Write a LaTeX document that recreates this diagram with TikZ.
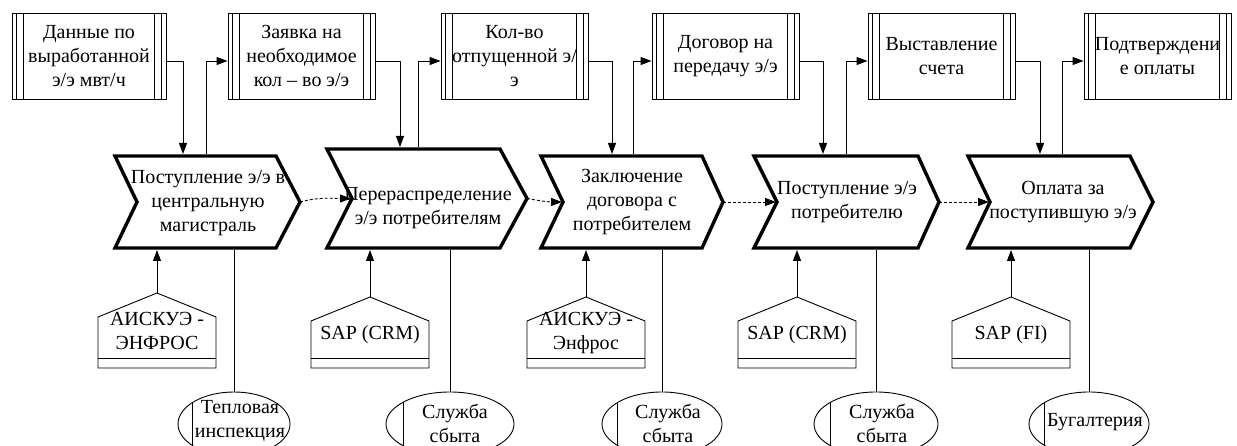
\documentclass[tikz,border=0pt]{standalone}
\usepackage{fontspec}
\setmainfont{Liberation Serif}
\usetikzlibrary{arrows.meta,calc,shapes.geometric}

\newcommand\mychev[7]{%
  \draw[chevline] (#2,#6) -- (#4,#6) -- (#5,{(#6+#7)/2}) -- (#4,#7) -- (#2,#7) -- (#3,{(#6+#7)/2}) -- cycle;
  \coordinate (#1tip) at (#5,{(#6+#7)/2});
  \coordinate (#1notch) at ({#3-1},{(#6+#7)/2});
  \coordinate (#1top) at (#2,{#6-2});
  \coordinate (#1bot) at (#2,{#7+2});
}
\newcommand\mysys[6]{%
  \draw[thinline] ({#2-59},368) -- ({#2-59},#4) -- (#2,#3) -- ({#2+59},#4) -- ({#2+59},368) -- cycle;
  \draw[thinline] ({#2-59},358) -- ({#2+59},358);
  \coordinate (#1a) at (#2,#3);
  \node[txt] (#1t) at (#2,#6) {#5};
}
\newcommand\myorg[4]{%
  \node[orgell, minimum width=#3pt] (#1) at (#2,424) {};
  \begin{scope}
    \clip (#2,424) ellipse ({#3/2} and 32);
    \draw[thinline] (#4,380) -- (#4,470);
  \end{scope}
}

\begin{document}
\begin{tikzpicture}[x=1pt,y=-1pt,
  font=\rmfamily\fontsize{20}{24}\selectfont,
  thinline/.style={line width=0.9pt},
  chevline/.style={line width=3.4pt,line join=miter},
  doc/.style={draw,line width=0.9pt,minimum height=86pt,inner sep=0pt,align=center},
  txt/.style={inner sep=0pt,align=center},
  orgell/.style={draw,ellipse,line width=0.9pt,minimum height=64pt,inner sep=0pt},
  arr/.style={line width=0.9pt,-{Triangle[length=11pt,width=8pt]}},
  darr/.style={line width=0.9pt,dash pattern=on 3pt off 2pt,-{Triangle[length=11pt,width=8pt]}}]
\useasboundingbox (0,0) rectangle (1237,446);
\clip (0,0) rectangle (1237,446);
\fill[white] (0,0) rectangle (1237,446);

% top document boxes
\node[doc,minimum width=154pt] (b1) at (89,56) {Данные по\\выработанной\\э/э мвт/ч};
\node[doc,minimum width=147pt] (b2) at (301.5,56) {Заявка на\\необходимое\\кол – во э/э};
\node[doc,minimum width=147pt] (b3) at (514.5,56) {Кол-во\\отпущенной э/\\э};
\node[doc,minimum width=147pt] (b4) at (725.5,56) {Договор на\\передачу э/э};
\node[doc,minimum width=147pt] (b5) at (941.5,56) {Выставление\\счета};
\node[doc,minimum width=147pt] (b6) at (1157.5,56) {Подтверждени\\е оплаты};
\foreach \b in {b1,b2,b3,b4,b5,b6}{
  \draw[thinline] ([xshift=5pt]\b.north west) -- ([xshift=5pt]\b.south west);
  \draw[thinline] ([xshift=12pt]\b.north west) -- ([xshift=12pt]\b.south west);
  \draw[thinline] ([xshift=-5pt]\b.north east) -- ([xshift=-5pt]\b.south east);
  \draw[thinline] ([xshift=-12pt]\b.north east) -- ([xshift=-12pt]\b.south east);
}

% chevrons
\mychev{c1}{115}{137}{276}{300}{156}{248}
\mychev{c2}{327}{352}{500}{527}{149}{248}
\mychev{c3}{541}{563}{702}{723}{156}{248}
\mychev{c4}{754}{777}{918}{939}{156}{248}
\mychev{c5}{968}{990}{1130}{1153}{156}{248}
\node[txt] (t1) at (208,203) {Поступление э/э в\\центральную\\магистраль};
\node[txt] (t2) at (428,208) {Перераспределение\\э/э потребителям};
\node[txt] (t3) at (632,202) {Заключение\\договора с\\потребителем};
\node[txt] (t4) at (847,202) {Поступление э/э\\потребителю};
\node[txt] (t5) at (1063,202) {Оплата за\\поступившую э/э};

% dashed flow
\draw[darr] (c1tip) to[out=15,in=180] (c2notch);
\draw[darr] (c2tip) to[out=-10,in=180] (c3notch);
\draw[darr] (c3tip) -- (c4notch);
\draw[darr] (c4tip) -- (c5notch);

% top connectors
\coordinate (y61) at (0,61);
\draw[arr] (b1.east |- y61) -| (183,0 |- c1top);
\draw[arr] (206,0 |- c1top) |- (b2.west |- y61);
\draw[arr] (b2.east |- y61) -| (400,0 |- c2top);
\draw[arr] (418,0 |- c2top) |- (b3.west |- y61);
\draw[arr] (b3.east |- y61) -| (612,0 |- c3top);
\draw[arr] (633,0 |- c3top) |- (b4.west |- y61);
\draw[arr] (b4.east |- y61) -| (823,0 |- c4top);
\draw[arr] (846,0 |- c4top) |- (b5.west |- y61);
\draw[arr] (b5.east |- y61) -| (1040,0 |- c5top);
\draw[arr] (1062,0 |- c5top) |- (b6.west |- y61);

% systems
\mysys{s1}{157}{293}{317}{АИСКУЭ -\\ЭНФРОС}{331}
\mysys{s2}{370}{297}{321}{SAP (CRM)}{335}
\mysys{s3}{586}{297}{321}{АИСКУЭ -\\Энфрос}{333}
\mysys{s4}{797}{297}{321}{SAP (CRM)}{335}
\mysys{s5}{1011}{297}{321}{SAP (FI)}{335}
\draw[arr] (s1a) -- (s1a |- c1bot);
\draw[arr] (s2a) -- (s2a |- c2bot);
\draw[arr] (s3a) -- (s3a |- c3bot);
\draw[arr] (s4a) -- (s4a |- c4bot);
\draw[arr] (s5a) -- (s5a |- c5bot);

% org units
\myorg{e1}{234}{112}{192}
\myorg{e2}{450}{128}{403}
\myorg{e3}{662}{120}{617}
\myorg{e4}{876}{124}{830}
\myorg{e5}{1089}{120}{1044}
\node[txt] (e1t) at (240,421) {Тепловая\\инспекция};
\node[txt] (e2t) at (455,423) {Служба\\сбыта};
\node[txt] (e3t) at (668,423) {Служба\\сбыта};
\node[txt] (e4t) at (882,423) {Служба\\сбыта};
\node[txt] (e5t) at (1095,422) {Бугалтерия};
\draw[thinline] (234,0 |- c1bot) -- (e1.north);
\draw[thinline] (450,0 |- c2bot) -- (e2.north);
\draw[thinline] (662,0 |- c3bot) -- (e3.north);
\draw[thinline] (876,0 |- c4bot) -- (e4.north);
\draw[thinline] (1089,0 |- c5bot) -- (e5.north);
\end{tikzpicture}
\end{document}
